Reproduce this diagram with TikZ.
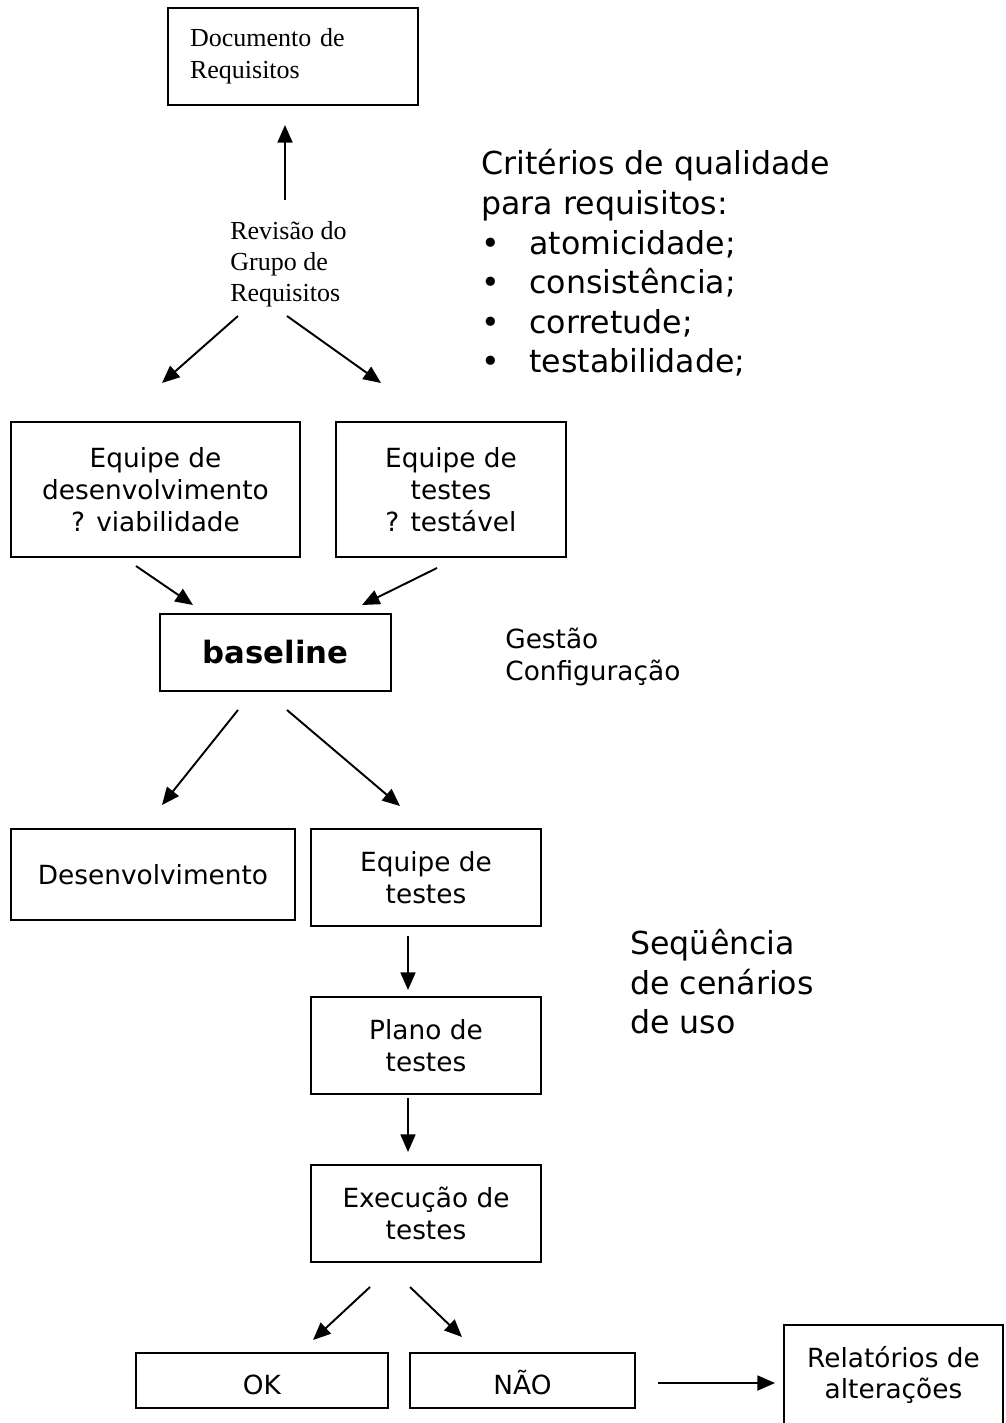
\documentclass[tikz,border=0pt]{standalone}
\usepackage{fontspec}
\setsansfont{DejaVu Sans}
\newfontfamily\serifrm{Liberation Serif}
\usetikzlibrary{arrows.meta}

\begin{document}
\begin{tikzpicture}[x=0.02cm, y=-0.02cm, font=\sffamily\fontsize{15}{18.1}\selectfont,
		box/.style={draw, line width=1.1pt, align=center, inner sep=0pt},
		big/.style={font=\sffamily\fontsize{18}{22.5}\selectfont, align=left, anchor=west, inner sep=0pt},
		seta/.style={-{Triangle[length=10pt,width=8.5pt]}, line width=1.1pt}]
		\clip (0,0) rectangle (1005,1423);
		\node[box, minimum width=5cm, minimum height=1.94cm, text width=4.12cm, inner xsep=0.44cm, align=left, font=\serifrm\fontsize{14.8}{18}\selectfont] (doc) at (293,56.5) {Documento de\\Requisitos};
		\node[anchor=west, inner sep=0pt, align=left, font=\serifrm\fontsize{14.8}{17.6}\selectfont] (rev) at (230,264) {Revisão do\\Grupo de\\Requisitos};
		\node[big] (crit) at (481,263) {Critérios de qualidade\\para requisitos:\\
			\makebox[0.96cm][l]{\textbullet}atomicidade;\\
			\makebox[0.96cm][l]{\textbullet}consistência;\\
			\makebox[0.96cm][l]{\textbullet}corretude;\\
			\makebox[0.96cm][l]{\textbullet}testabilidade;};
		\node[box, minimum width=5.78cm, minimum height=2.7cm] (eqdev) at (155.5,489.5) {Equipe de\\desenvolvimento\\? viabilidade};
		\node[box, minimum width=4.6cm, minimum height=2.7cm] (eqtes) at (451,489.5) {Equipe de\\testes\\? testável};
		\node[box, minimum width=4.62cm, minimum height=1.54cm, font=\sffamily\bfseries\fontsize{17.5}{20}\selectfont] (base) at (275.5,652.5) {baseline};
		\node[anchor=west, inner sep=0pt, align=left] (gestao) at (505,657) {Gestão\\Configuração};
		\node[box, minimum width=5.68cm, minimum height=1.82cm] (desenv) at (153,874.5) {Desenvolvimento};
		\node[box, minimum width=4.6cm, minimum height=1.94cm] (eqtes2) at (426,877.5) {Equipe de\\testes};
		\node[big] (seq) at (630,982) {Seqüência\\de cenários\\de uso};
		\node[box, minimum width=4.6cm, minimum height=1.94cm] (plano) at (426,1045.5) {Plano de\\testes};
		\node[box, minimum width=4.6cm, minimum height=1.94cm] (exec) at (426,1213.5) {Execução de\\testes};
		\node[box, minimum width=5.04cm, minimum height=1.1cm, text height=15.5pt, text depth=0pt] (ok) at (262,1380.5) {OK};
		\node[box, minimum width=4.5cm, minimum height=1.1cm, text height=15.5pt, text depth=0pt] (nao) at (522.5,1380.5) {NÃO};
		\node[box, minimum width=4.38cm, minimum height=2cm] (rel) at (893.5,1375) {Relatórios de\\alterações};

		\coordinate (revtop) at (285,200); \coordinate (doclow) at (285,125);
		\coordinate (revl) at (238,316); \coordinate (devtop) at (162,383);
		\coordinate (revr) at (287,316); \coordinate (testop) at (381,383);
		\coordinate (devlow) at (136,566); \coordinate (basel) at (193,605);
		\coordinate (teslow) at (437,568); \coordinate (baser) at (362,605);
		\coordinate (basell) at (238,710); \coordinate (desentop) at (162,805);
		\coordinate (baserr) at (287,710); \coordinate (tes2top) at (400,806);
		\coordinate (tes2low) at (408,936); \coordinate (planotop) at (408,990);
		\coordinate (planolow) at (408,1098); \coordinate (exectop) at (408,1152);
		\coordinate (execl) at (370,1287); \coordinate (oktop) at (313,1340);
		\coordinate (execr) at (410,1287); \coordinate (naotop) at (462,1337);
		\coordinate (naoright) at (658,1383); \coordinate (relleft) at (775,1383);

		\draw[seta] (revtop) -- (doclow);
		\draw[seta] (revl) -- (devtop);
		\draw[seta] (revr) -- (testop);
		\draw[seta] (devlow) -- (basel);
		\draw[seta] (teslow) -- (baser);
		\draw[seta] (basell) -- (desentop);
		\draw[seta] (baserr) -- (tes2top);
		\draw[seta] (tes2low) -- (planotop);
		\draw[seta] (planolow) -- (exectop);
		\draw[seta] (execl) -- (oktop);
		\draw[seta] (execr) -- (naotop);
		\draw[seta] (naoright) -- (relleft);
	\end{tikzpicture}
\end{document}
